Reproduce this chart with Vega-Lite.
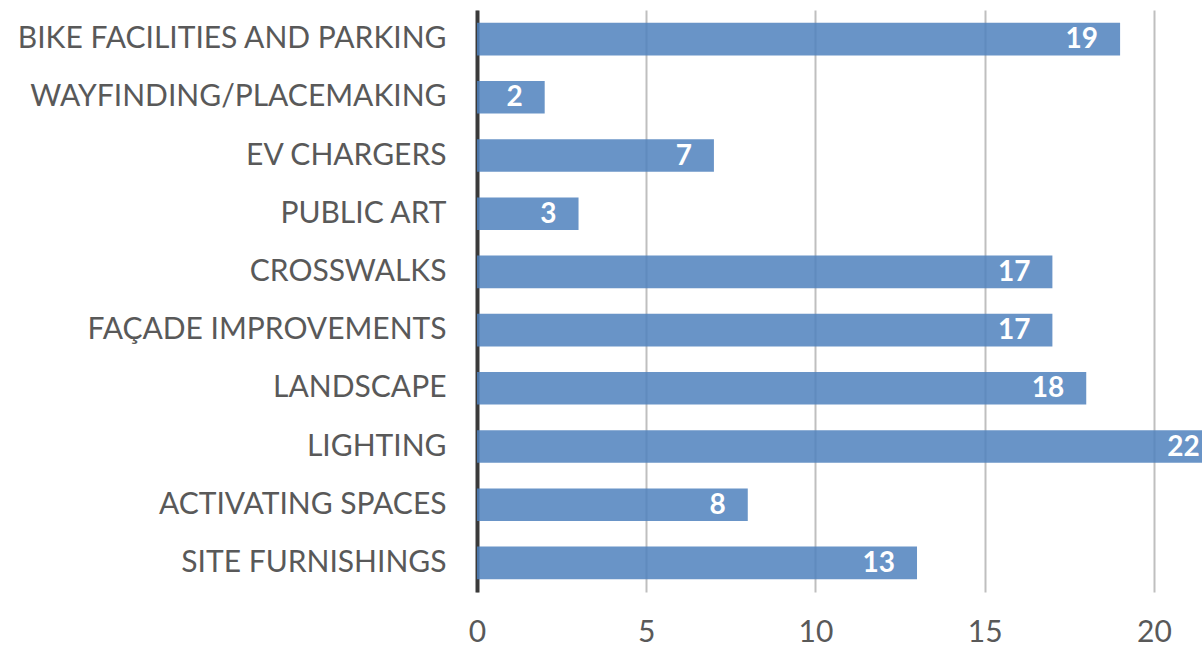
{
  "$schema": "https://vega.github.io/schema/vega-lite/v6.json",
  "autosize": {"type": "none"},
  "width": 725,
  "height": 582,
  "padding": {"left": 477, "top": 10, "right": 0, "bottom": 57},
  "background": "white",
  "config": {"view": {"stroke": null}},
  "data": {
    "values": [
      {"category": "BIKE FACILITIES AND PARKING", "value": 19},
      {"category": "WAYFINDING/PLACEMAKING", "value": 2},
      {"category": "EV CHARGERS", "value": 7},
      {"category": "PUBLIC ART", "value": 3},
      {"category": "CROSSWALKS", "value": 17},
      {"category": "FAÇADE IMPROVEMENTS", "value": 17},
      {"category": "LANDSCAPE", "value": 18},
      {"category": "LIGHTING", "value": 22},
      {"category": "ACTIVATING SPACES", "value": 8},
      {"category": "SITE FURNISHINGS", "value": 13}
    ]
  },
  "encoding": {
    "y": {
      "field": "category",
      "type": "nominal",
      "sort": null,
      "scale": {"paddingInner": 0.44, "paddingOuter": 0.22},
      "axis": {
        "title": null,
        "ticks": false,
        "grid": false,
        "domain": true,
        "domainColor": "#3a3a3a",
        "domainWidth": 4,
        "labelFont": "Lato",
        "labelFontSize": 30,
        "labelColor": "#595959",
        "labelPadding": 31,
        "labelLimit": 480
      }
    },
    "x": {
      "field": "value",
      "type": "quantitative",
      "scale": {"domain": [0, 21.42], "nice": false, "zero": true},
      "axis": {
        "title": null,
        "values": [0, 5, 10, 15, 20],
        "ticks": false,
        "domain": false,
        "grid": true,
        "gridColor": "#bfbfbf",
        "gridWidth": 2,
        "labelFont": "Lato",
        "labelFontSize": 30,
        "labelColor": "#595959",
        "labelPadding": 25,
        "labelFlush": false
      }
    }
  },
  "layer": [
    {
      "mark": {"type": "bar", "color": "#4f81bd", "opacity": 0.85, "clip": true}
    },
    {
      "mark": {
        "type": "text",
        "align": "right",
        "baseline": "middle",
        "dx": -22,
        "dy": 1,
        "color": "white",
        "font": "Lato",
        "fontWeight": "bold",
        "fontSize": 28,
        "clip": true
      },
      "encoding": {"text": {"field": "value", "type": "quantitative"}}
    }
  ]
}
